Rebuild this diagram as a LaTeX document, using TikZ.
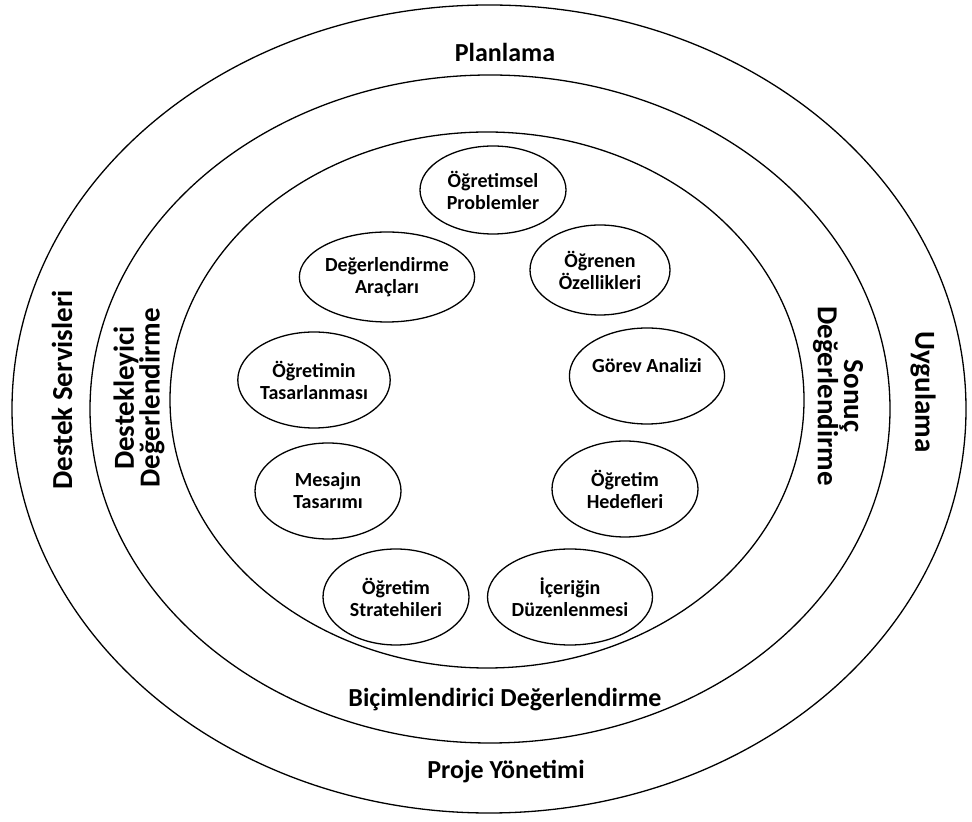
\documentclass[tikz,border=0pt]{standalone}
\usepackage{fontspec}
\setmainfont{Carlito}
\usetikzlibrary{shapes.geometric}

\begin{document}
\begin{tikzpicture}[x=1pt, y=1pt,
	ring/.style = {draw, ellipse, line width=1.3pt, inner sep=0pt},
	main/.style = {draw, ellipse, line width=1.3pt, inner sep=0pt, minimum width=146pt, minimum height=96pt, align=center, font=\fontsize{20}{22}\selectfont\bfseries},
	lbl/.style = {align=center, inner sep=0pt, font=\fontsize{26}{26}\selectfont\bfseries},
	side/.style = {align=center, inner sep=0pt, font=\fontsize{29}{21}\selectfont\bfseries}]
	\useasboundingbox (0,0) rectangle (972,822);
	\node[ring, minimum width=954pt, minimum height=808pt] (outer) at (489,413) {};
	\node[ring, minimum width=800pt, minimum height=668pt] (middle) at (490,413) {};
	\node[ring, minimum width=634pt, minimum height=536pt] (inner) at (487,422) {};
	\node[main, minimum height=88pt] (1) at (493,632) {Öğretimsel\\Problemler};
	\node[main, minimum height=90pt] (2) at (387,545) {Değerlendirme\\Araçları};
	\node[main, minimum height=90pt, minimum width=140pt] (3) at (600,552) {Öğrenen\\Özellikleri};
	\node[main] (4) at (314,442) {Öğretimin\\Tasarlanması};
	\node[main] (5) at (647,446) {Görev Analizi\\\mbox{}};
	\node[main] (6) at (328,331) {Mesajın\\Tasarımı};
	\node[main] (7) at (625,333) {Öğretim\\Hedefleri};
	\node[main] (8) at (396,225) {Öğretim\\Stratehileri};
	\node[main] (9) at (570,225) {İçeriğin\\Düzenlenmesi};
	\node[lbl] (plan) at (505,770) {Planlama};
	\node[lbl] (bicim) at (505,122) {Biçimlendirici Değerlendirme};
	\node[lbl] (proje) at (506,50) {Proje Yönetimi};
	\node[side, rotate=90] (servis) at (62,432) {Destek Servisleri};
	\node[side, rotate=90] (destek) at (139,424) {Destekleyici\\Değerlendirme};
	\node[side, rotate=-90] (uygula) at (923,430) {Uygulama};
	\node[side, rotate=-90] (sonuc) at (838,426) {Sonuç\\Değerlendirme};
\end{tikzpicture}
\end{document}
